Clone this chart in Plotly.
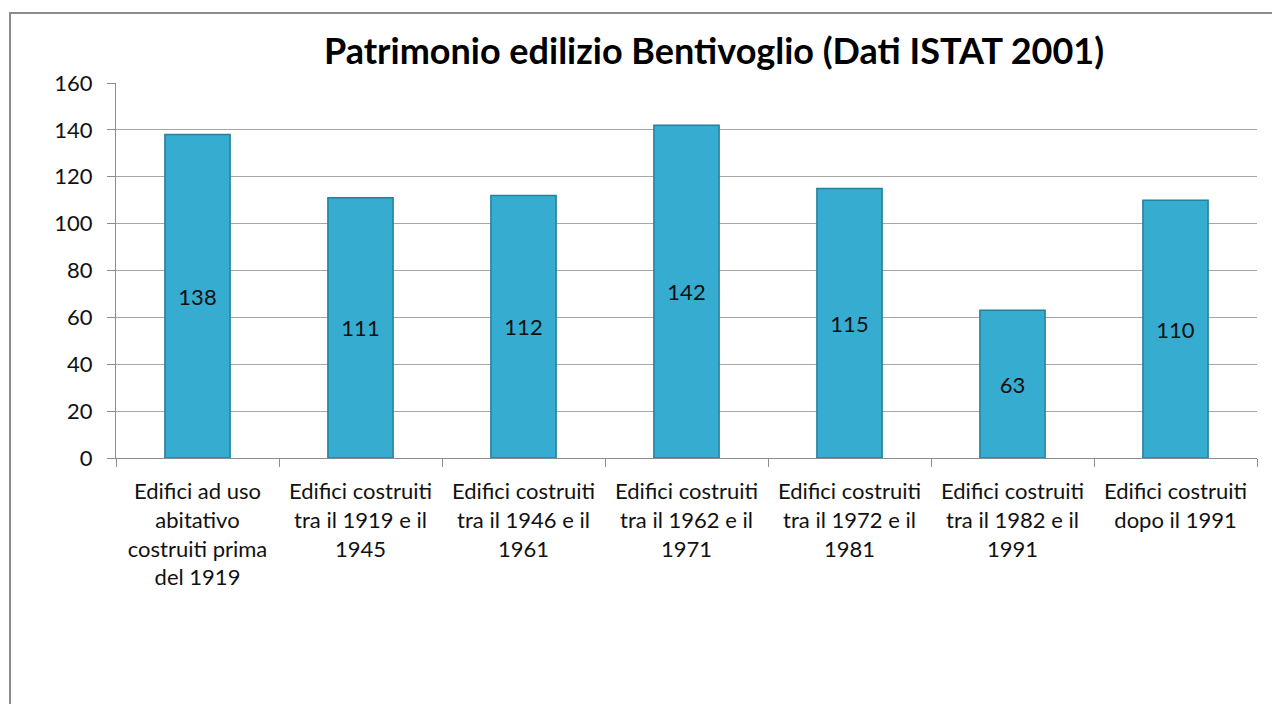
import plotly.graph_objects as go

categories = [
    "Edifici ad uso<br>abitativo<br>costruiti prima<br>del 1919",
    "Edifici costruiti<br>tra il 1919 e il<br>1945",
    "Edifici costruiti<br>tra il 1946 e il<br>1961",
    "Edifici costruiti<br>tra il 1962 e il<br>1971",
    "Edifici costruiti<br>tra il 1972 e il<br>1981",
    "Edifici costruiti<br>tra il 1982 e il<br>1991",
    "Edifici costruiti<br>dopo il 1991",
]
values = [138, 111, 112, 142, 115, 63, 110]
y_ticks = [0, 20, 40, 60, 80, 100, 120, 140, 160]

FONT = "Lato, 'Open Sans', sans-serif"

fig = go.Figure(
    go.Bar(
        x=categories,
        y=values,
        width=0.4,
        marker=dict(color="#36acd0", line=dict(color="#25809c", width=1.5)),
        text=[str(v) for v in values],
        textposition="inside",
        insidetextanchor="middle",
        textangle=0,
        textfont=dict(family=FONT, size=22, color="#111111"),
        hoverinfo="x+y",
    )
)

OFF = 8  # default page body margin
W, H = 1280 - OFF, 704 - OFF
L, T = 116 - OFF, 83 - OFF
R = W - (1257 - OFF)
B = H - (458 - OFF)
pw, ph = W - L - R, H - T - B

fig.add_shape(
    type="rect", xref="paper", yref="paper",
    x0=(10 - 116) / pw, x1=(1300 - 116) / pw,
    y0=-(720 - 458) / ph, y1=(458 - 13) / ph,
    line=dict(color="#8c8c8c", width=2), fillcolor="rgba(0,0,0,0)", layer="below",
)

fig.update_layout(
    width=W, height=H,
    margin=dict(l=L, r=R, t=T, b=B),
    paper_bgcolor="white", plot_bgcolor="white",
    showlegend=False,
    title=dict(
        text="<b>Patrimonio edilizio Bentivoglio (Dati ISTAT 2001)</b>",
        x=(714 - OFF) / W, xanchor="center", y=1 - (51 - OFF) / H, yanchor="middle",
        font=dict(family=FONT, size=36, color="#000000"),
    ),
    xaxis=dict(
        showgrid=False, showline=True, linecolor="#8c8c8c", linewidth=1,
        ticks="outside", ticklen=8, tickcolor="#8c8c8c", tickson="boundaries",
        tickfont=dict(family=FONT, size=22, color="#111111"),
        ticklabelstandoff=14,
        range=[-0.5, 6.5],
    ),
    yaxis=dict(
        range=[0, 160], tickvals=y_ticks, showgrid=True, gridcolor="#a6a6a6", gridwidth=1,
        showline=True, linecolor="#8c8c8c", linewidth=1,
        ticks="outside", ticklen=8, tickcolor="#8c8c8c",
        tickfont=dict(family=FONT, size=22, color="#111111"),
        ticklabelstandoff=10,
        zeroline=False,
    ),
    font=dict(family=FONT),
    bargap=0.6,
)

fig.write_html("out.html")
